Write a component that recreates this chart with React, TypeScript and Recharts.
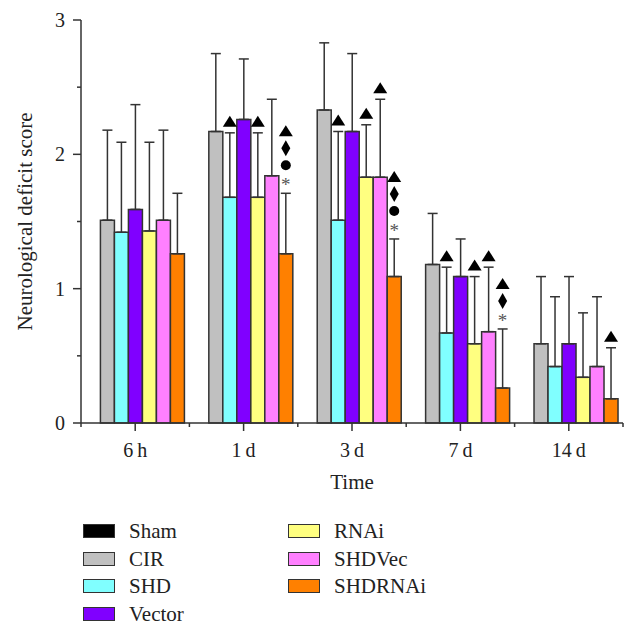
import React from 'react';
import { BarChart, Bar, XAxis, YAxis, ErrorBar, LabelList } from 'recharts';

const times = ['6\u2009h', '1\u2009d', '3\u2009d', '7\u2009d', '14\u2009d'];

// mean scores per group
const sham = [0, 0, 0, 0, 0];
const cir = [1.51, 2.17, 2.33, 1.18, 0.59];
const shd = [1.42, 1.68, 1.51, 0.67, 0.42];
const vector = [1.59, 2.26, 2.17, 1.09, 0.59];
const rnai = [1.43, 1.68, 1.83, 0.59, 0.34];
const shdVec = [1.51, 1.84, 1.83, 0.68, 0.42];
const shdRnai = [1.26, 1.26, 1.09, 0.26, 0.18];

// standard deviations (upper whisker only)
const shamSd = [0, 0, 0, 0, 0];
const cirSd = [0.67, 0.58, 0.5, 0.38, 0.5];
const shdSd = [0.67, 0.48, 0.66, 0.49, 0.52];
const vectorSd = [0.78, 0.45, 0.58, 0.28, 0.5];
const rnaiSd = [0.66, 0.48, 0.39, 0.5, 0.48];
const shdVecSd = [0.67, 0.57, 0.58, 0.48, 0.52];
const shdRnaiSd = [0.45, 0.45, 0.28, 0.44, 0.38];

// significance marks above the whiskers, top to bottom
const noMarks = ['', '', '', '', ''];
const shdMarks = ['', '▲', '▲', '▲', ''];
const rnaiMarks = ['', '▲', '▲', '▲', ''];
const shdVecMarks = ['', '', '▲', '▲', ''];
const shdRnaiMarks = ['', '▲♦●*', '▲♦●*', '▲♦*', '▲'];

const yTicks = [0, 0.5, 1, 1.5, 2, 2.5, 3];

const series = [
  { key: 'sham', name: 'Sham', color: '#000000', values: sham, sd: shamSd, marks: noMarks },
  { key: 'cir', name: 'CIR', color: '#c0c0c0', values: cir, sd: cirSd, marks: noMarks },
  { key: 'shd', name: 'SHD', color: '#80ffff', values: shd, sd: shdSd, marks: shdMarks },
  { key: 'vector', name: 'Vector', color: '#8000ff', values: vector, sd: vectorSd, marks: noMarks },
  { key: 'rnai', name: 'RNAi', color: '#ffff80', values: rnai, sd: rnaiSd, marks: rnaiMarks },
  { key: 'shdVec', name: 'SHDVec', color: '#ff80ff', values: shdVec, sd: shdVecSd, marks: shdVecMarks },
  { key: 'shdRnai', name: 'SHDRNAi', color: '#ff8000', values: shdRnai, sd: shdRnaiSd, marks: shdRnaiMarks },
];

const data = times.map((t, i) => {
  const row: any = { time: t };
  series.forEach((s) => {
    row[s.key] = s.values[i];
    row[s.key + 'Err'] = [0, s.sd[i]];
    row[s.key + 'Mark'] = s.marks[i];
  });
  return row;
});

const FONT = '"Liberation Serif", "Times New Roman", serif';
const INK = '#333';

const Mark = ({ c, cx, cy }: { c: string; cx: number; cy: number }) => {
  if (c === '▲') return <polygon points={`${cx},${cy - 6} ${cx - 7},${cy + 5} ${cx + 7},${cy + 5}`} fill="#000" />;
  if (c === '♦') return <polygon points={`${cx},${cy - 8} ${cx + 4.5},${cy} ${cx},${cy + 8} ${cx - 4.5},${cy}`} fill="#000" />;
  if (c === '●') return <circle cx={cx} cy={cy} r={5} fill="#000" />;
  return (
    <text x={cx} y={cy + 9} textAnchor="middle" fontFamily={FONT} fontSize={19} fill="#555">
      {c}
    </text>
  );
};

const renderMarks = (values: number[], sd: number[], marks: string[]) => (props: any) => {
  const { index } = props;
  const m = marks[index];
  if (!m) return null;
  const vb = props.viewBox || props;
  const { x, y, width, height } = vb;
  const unit = height / values[index];
  const top = y - sd[index] * unit;
  const cx = x + width / 2;
  const chars = m.split('').reverse();
  return (
    <g>
      {chars.map((c: string, k: number) => (
        <Mark key={k} c={c} cx={cx} cy={top - 11 - k * 17} />
      ))}
    </g>
  );
};

const YTick = ({ x, y, payload }: any) => {
  const major = Number.isInteger(payload.value);
  return (
    <g>
      <line x1={x - (major ? 8 : 4)} x2={x} y1={y} y2={y} stroke={INK} strokeWidth={1.5} />
      {major && (
        <text x={x - 16} y={y} textAnchor="end" dominantBaseline="central" fontFamily={FONT} fontSize={20} fill="#222">
          {payload.value}
        </text>
      )}
    </g>
  );
};

// category tick plus short ticks on the group boundaries
const XTick = ({ x, y, payload, index, width, visibleTicksCount }: any) => {
  const hb = width && visibleTicksCount ? width / visibleTicksCount / 2 : 0;
  return (
    <g>
      <line x1={x} x2={x} y1={y} y2={y + 8} stroke={INK} strokeWidth={1.5} />
      {hb > 0 && <line x1={x + hb} x2={x + hb} y1={y} y2={y + 4} stroke={INK} strokeWidth={1.5} />}
      {hb > 0 && index === 0 && <line x1={x - hb} x2={x - hb} y1={y} y2={y + 4} stroke={INK} strokeWidth={1.5} />}
      <text x={x} y={y + 27} textAnchor="middle" dominantBaseline="central" fontFamily={FONT} fontSize={20} fill="#222">
        {payload.value}
      </text>
    </g>
  );
};

const YLabel = ({ viewBox }: any) => {
  const x = viewBox.x + 25;
  const y = viewBox.y + viewBox.height / 2;
  return (
    <text x={x} y={y} transform={`rotate(-90, ${x}, ${y})`} textAnchor="middle" dominantBaseline="central" fontFamily={FONT} fontSize={21} fill="#222">
      Neurological deficit score
    </text>
  );
};

const XLabel = ({ viewBox }: any) => {
  const x = viewBox.x + viewBox.width / 2;
  const y = viewBox.y + 59;
  return (
    <text x={x} y={y} textAnchor="middle" dominantBaseline="central" fontFamily={FONT} fontSize={21} fill="#222">
      Time
    </text>
  );
};

const legendCols = [series.slice(0, 4), series.slice(4)];

export default function App() {
  return (
    <div style={{ position: 'absolute', left: 0, top: 0, width: 638, height: 635, background: '#fff' }}>
      <BarChart
        width={638}
        height={635}
        data={data}
        margin={{ top: 20, right: 15, left: 0, bottom: 147 }}
        barCategoryGap="5%"
        barGap={0}
      >
        <XAxis
          dataKey="time"
          height={65}
          interval={0}
          tick={<XTick />}
          tickLine={false}
          tickSize={0}
          tickMargin={0}
          axisLine={{ stroke: INK, strokeWidth: 1.5 }}
          label={<XLabel />}
        />
        <YAxis
          width={81}
          domain={[0, 3]}
          ticks={yTicks}
          interval={0}
          tick={<YTick />}
          tickLine={false}
          tickSize={0}
          tickMargin={0}
          axisLine={{ stroke: INK, strokeWidth: 1.5 }}
          label={<YLabel />}
        />
        {series.map((s) => (
          <Bar key={s.key} dataKey={s.key} name={s.name} fill={s.color} stroke={INK} strokeWidth={1.5} isAnimationActive={false}>
            {s.key !== 'sham' && (
              <ErrorBar dataKey={s.key + 'Err'} width={5} stroke={INK} strokeWidth={1.5} direction="y" />
            )}
            {s.marks.some((m) => m) && (
              <LabelList dataKey={s.key + 'Mark'} content={renderMarks(s.values, s.sd, s.marks)} />
            )}
          </Bar>
        ))}
      </BarChart>
      {legendCols.map((col, ci) =>
        col.map((s, ri) => {
          const cy = 531 + ri * 27.7;
          const left = ci === 0 ? 83 : 288;
          return (
            <div key={s.key} style={{ position: 'absolute', left, top: cy - 7, height: 14, display: 'flex', alignItems: 'center' }}>
              <div style={{ width: 32, height: 14, boxSizing: 'border-box', border: `1.5px solid ${INK}`, background: s.color }} />
              <span style={{ marginLeft: 14, fontFamily: FONT, fontSize: 21, color: '#222', lineHeight: '14px' }}>{s.name}</span>
            </div>
          );
        })
      )}
    </div>
  );
}
